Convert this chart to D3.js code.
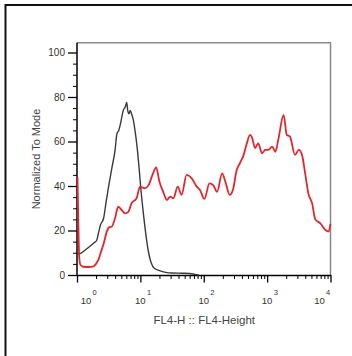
<!DOCTYPE html>
<html>
<head>
<meta charset="utf-8">
<script src="https://cdn.jsdelivr.net/npm/d3@7"></script>
<style>
  body { margin: 0; background: #fff; }
  svg { display: block; font-family: "Liberation Sans", Arial, sans-serif; }
</style>
</head>
<body>
<svg id="chart"></svg>
<script>
// decade exponents (log10 of channel) and "normalized to mode" values
const blackLogX = [0, 0.05, 0.12, 0.2, 0.27, 0.31, 0.34, 0.37, 0.42, 0.46, 0.5, 0.55, 0.6, 0.63, 0.66, 0.69, 0.73, 0.76, 0.785, 0.8, 0.82, 0.84, 0.86, 0.89, 0.92, 0.95, 0.98, 1.01, 1.05, 1.09, 1.13, 1.17, 1.22, 1.3, 1.4, 1.5, 1.65, 1.78, 1.86, 1.92];
const blackVal = [9.3, 9.6, 11, 12.8, 14.5, 15.5, 19, 22.5, 25.5, 33, 40, 48, 56, 63.5, 65, 68.5, 74, 75.5, 77.5, 74, 72.5, 74, 72.5, 69.5, 64, 57, 48, 38, 27, 17.5, 10, 5.5, 3, 2, 1.2, 0.9, 0.8, 0.7, 0.3, 0];

const redLogX = [0.008, 0.02, 0.035, 0.055, 0.1, 0.18, 0.26, 0.3, 0.34, 0.38, 0.42, 0.47, 0.51, 0.55, 0.6, 0.65, 0.71, 0.76, 0.81, 0.86, 0.94, 0.995, 1.07, 1.13, 1.2, 1.25, 1.3, 1.36, 1.42, 1.47, 1.52, 1.59, 1.65, 1.73, 1.81, 1.89, 1.94, 2.01, 2.09, 2.15, 2.21, 2.29, 2.34, 2.41, 2.46, 2.52, 2.57, 2.63, 2.68, 2.73, 2.76, 2.81, 2.86, 2.92, 2.97, 3.02, 3.08, 3.13, 3.18, 3.26, 3.31, 3.36, 3.44, 3.5, 3.55, 3.6, 3.65, 3.71, 3.76, 3.84, 3.92, 3.97, 4.0];
const redVal = [44, 25, 8, 4.5, 3.7, 3.6, 3.9, 5, 7, 10.5, 14, 19.5, 21.5, 21.8, 25.5, 30.7, 29, 27.7, 28.4, 32.2, 34.5, 39.7, 39, 40.4, 45.7, 48.4, 42, 37.4, 33.7, 35.2, 34.5, 39.7, 36, 45, 43.4, 39.7, 38.2, 34.2, 41.2, 40.4, 37.4, 45.7, 42, 36, 38.2, 47.2, 50.2, 54, 59.2, 63, 62, 57, 59.2, 54.7, 56.2, 56.2, 57.7, 55.4, 61.4, 72, 63, 62.2, 54, 56.2, 54, 45.7, 36.7, 32.2, 25, 23.2, 20.2, 19.5, 23];

const yTicks = [0, 20, 40, 60, 80, 100];
const xDecades = [1, 10, 100, 1000, 10000];
const xExponents = ["0", "1", "2", "3", "4"];

const W = 352, H = 356;
const svg = d3.select("#chart").attr("width", W).attr("height", H);

const x = d3.scaleLog().domain([1, 10000]).range([77, 330.5]);
const y = d3.scaleLinear().domain([0, 100]).range([275, 52.5]);
const yTop = y(104.4);

// outer border (only top/left visible)
svg.append("path")
    .attr("d", "M5.5," + (H + 5) + "V5H" + (W + 5))
    .attr("fill", "none")
    .attr("stroke", "#111")
    .attr("stroke-width", 2);

// gray frame top + right
svg.append("path")
    .attr("d", "M" + x(1) + "," + yTop + "H" + x(10000) + "V" + y(0))
    .attr("fill", "none")
    .attr("stroke", "#888")
    .attr("stroke-width", 1.5);

// minor ticks
let yMinor = d3.range(0, 105, 5).filter(d => d % 20 !== 0);
svg.append("g")
    .attr("transform", "translate(" + x(1) + ",0)")
    .call(d3.axisLeft(y).tickValues(yMinor).tickSize(4).tickFormat(""))
    .call(g => g.select(".domain").remove());

let xMinor = [];
xDecades.slice(0, 4).forEach(d => { for (let k = 2; k <= 9; k++) xMinor.push(d * k); });
svg.append("g")
    .attr("transform", "translate(0," + y(0) + ")")
    .call(d3.axisBottom(x).tickValues(xMinor).tickSize(4).tickFormat(""))
    .call(g => g.select(".domain").remove());

// main axes
const yAxis = svg.append("g")
    .attr("transform", "translate(" + x(1) + ",0)")
    .call(d3.axisLeft(y).tickValues(yTicks).tickSize(9).tickSizeOuter(0).tickPadding(3));
yAxis.select(".domain").attr("d", "M0," + yTop + "V" + (y(0) + 0.5)).attr("stroke-width", 1.5);
yAxis.selectAll("line").attr("stroke-width", 1.3);
yAxis.selectAll("text")
    .attr("font-size", 10)
    .attr("font-family", "Liberation Sans, Arial, sans-serif")
    .attr("fill", "#333");

const xAxis = svg.append("g")
    .attr("transform", "translate(0," + y(0) + ")")
    .call(d3.axisBottom(x).tickValues(xDecades).tickSize(7.5).tickSizeOuter(0).tickFormat(""));
xAxis.select(".domain").attr("stroke-width", 1.5);
xAxis.selectAll("line").attr("stroke-width", 1.3);

// decade labels: 10 with superscript exponent
const labelShift = [9, 0, 0, 0, -11];
const xl = svg.append("g").attr("fill", "#333");
xDecades.forEach((d, i) => {
    let cx = x(d) + labelShift[i];
    xl.append("text")
        .attr("x", cx).attr("y", 304)
        .attr("text-anchor", "middle")
        .attr("font-size", 9.5)
        .text("10");
    xl.append("text")
        .attr("x", cx + 6.5).attr("y", 294.5)
        .attr("font-size", 7.5)
        .text(xExponents[i]);
});

// axis titles
svg.append("text")
    .attr("x", (x(1) + x(10000)) / 2 + 0.5)
    .attr("y", 324)
    .attr("text-anchor", "middle")
    .attr("font-size", 11.5)
    .attr("fill", "#444")
    .text("FL4-H :: FL4-Height");

svg.append("text")
    .attr("transform", "translate(40," + 159 + ") rotate(-90)")
    .attr("text-anchor", "middle")
    .attr("font-size", 11)
    .attr("fill", "#444")
    .text("Normalized To Mode");

// histograms
const line = d3.line()
    .x(d => x(Math.pow(10, d[0])))
    .y(d => y(d[1]))
    .curve(d3.curveMonotoneX);

svg.append("path")
    .datum(blackLogX.map((e, i) => [e, blackVal[i]]))
    .attr("d", line)
    .attr("fill", "none")
    .attr("stroke", "#3a3a3a")
    .attr("stroke-width", 1.4);

svg.append("path")
    .datum(redLogX.map((e, i) => [e, redVal[i]]))
    .attr("d", line)
    .attr("fill", "none")
    .attr("stroke", "#e3262b")
    .attr("stroke-width", 1.8);
</script>
</body>
</html>
